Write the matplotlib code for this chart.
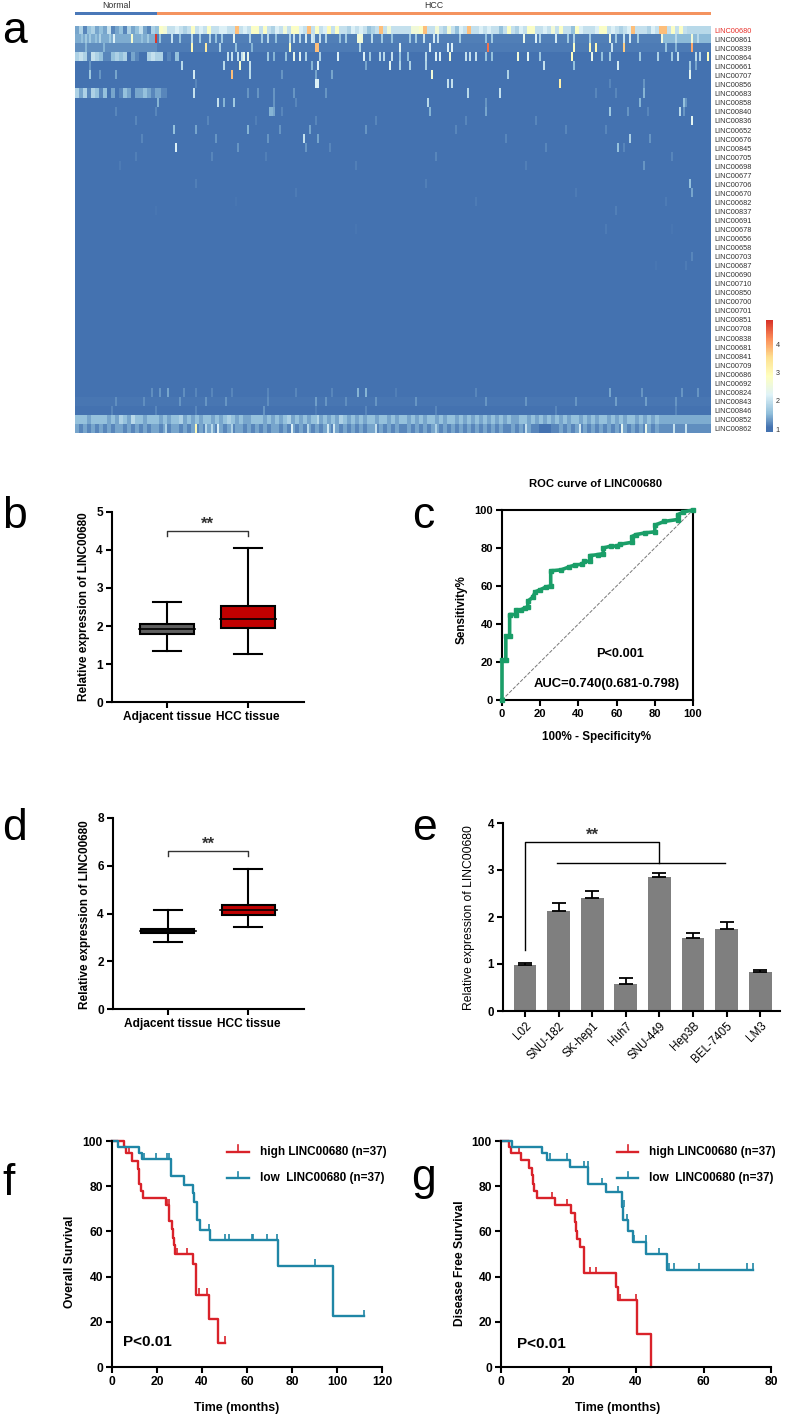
import numpy as np
from matplotlib import pyplot as plt
from matplotlib.colors import LinearSegmentedColormap

plt.rcParams['font.family'] = ['Liberation Sans', 'DejaVu Sans']
plt.rcParams['font.weight'] = 'bold'

W, H = 787, 1419

# heatmap
genes = ['LINC00680', 'LINC00861', 'LINC00839', 'LINC00864', 'LINC00661', 'LINC00707', 'LINC00856',
         'LINC00683', 'LINC00858', 'LINC00840', 'LINC00836', 'LINC00652', 'LINC00676', 'LINC00845',
         'LINC00705', 'LINC00698', 'LINC00677', 'LINC00706', 'LINC00670', 'LINC00682', 'LINC00837',
         'LINC00691', 'LINC00678', 'LINC00656', 'LINC00658', 'LINC00703', 'LINC00687', 'LINC00690',
         'LINC00710', 'LINC00850', 'LINC00700', 'LINC00701', 'LINC00851', 'LINC00708', 'LINC00838',
         'LINC00681', 'LINC00841', 'LINC00709', 'LINC00686', 'LINC00692', 'LINC00824', 'LINC00843',
         'LINC00846', 'LINC00852', 'LINC00862']
n_samples = 318
n_normal = 41
row_base = [1.9, 1.15, 1.12, 1.05, 1.03, 1.03, 1.02, 1.03, 1.02, 1.04, 1.02, 1.03, 1.02, 1.02, 1.01,
            1.01, 1.01, 1.01, 1.01, 1.01, 1.01, 1.0, 1.0, 1.0, 1.0, 1.0, 1.0, 1.0, 1.0, 1.0,
            1.0, 1.0, 1.0, 1.0, 1.0, 1.0, 1.0, 1.0, 1.0, 1.0, 1.05, 1.1, 1.06, 1.45, 1.25]

# coarse rows, one hex digit per two samples, value = 1 + 0.2 * digit
row_coarse = {
    0: '241342325123142352143' + '98556545956595566 55e5659959546585996 5e5956a59554656 5345e585'.replace(' ', '')
       + '555588 9e558548536 5e556565535 9546 599556 585 9553 965556 9956545 6e555465 ee595 95'.replace(' ', ''),
    3: '454154311343402100454' + '4010300000000000000000000',
    7: '424143130201320223212' + '110',
    43: '333233332324322332333' + '2323342323233232343232233323232342323233232324323232332332323'
        + '3232323323233232323232323232233232323232323323232332323233232323',
    44: '212121212122121212122' + '1212212121212212121221212121221212121212122121212121221212121'
        + '1212121221212121212121212112121211000112121212121212121212121212',
}
row_band = {1: [(0, 41, 1.45), (293, 318, 1.55)], 2: [(0, 41, 1.25)]}
row_spikes = {
    1: [(3, 1.6), (5, 1.7), (7, 1.7), (10, 1.6), (12, 1.8), (17, 1.7), (19, 2.2), (28, 2.7), (33, 1.6),
        (36, 1.7), (40, 4.8), (42, 1.6), (48, 2.0), (52, 1.6), (58, 1.9), (62, 1.7), (67, 1.8), (70, 1.6),
        (73, 1.7), (79, 2.3), (87, 1.8), (93, 1.7), (96, 1.9), (100, 1.6), (107, 1.8), (109, 2.0),
        (112, 1.9), (115, 2.1), (118, 2.1), (119, 2.0), (122, 2.0), (125, 1.8), (132, 1.6), (135, 1.7),
        (141, 2.6), (142, 2.6), (143, 2.6), (148, 1.9), (153, 1.7), (158, 1.6), (167, 1.7), (170, 1.7),
        (174, 2.0), (179, 2.1), (181, 2.0), (192, 1.7), (205, 1.6), (208, 1.7), (224, 2.4), (230, 2.2),
        (232, 1.8), (240, 2.1), (246, 1.7), (249, 1.8), (257, 1.7), (267, 2.5), (270, 1.7), (274, 2.0),
        (277, 2.1), (281, 1.7), (293, 2.5), (300, 1.9), (308, 2.6), (311, 1.9)],
    2: [(5, 1.5), (14, 1.5), (58, 3.0), (65, 3.3), (72, 1.8), (80, 1.6), (88, 1.5), (107, 2.8), (120, 3.8),
        (121, 3.8), (142, 1.8), (162, 2.3), (177, 2.2), (186, 2.2), (188, 2.2), (206, 4.4), (249, 2.8),
        (257, 3.0), (260, 3.0), (268, 2.0), (274, 3.7), (308, 4.0), (295, 1.6), (300, 1.5)],
    3: [(76, 2.0), (78, 2.0), (81, 2.0), (83, 2.0), (84, 2.4), (86, 2.4), (96, 1.7), (99, 1.5), (105, 1.6),
        (109, 2.4), (112, 2.3), (115, 1.8), (122, 1.8), (131, 2.2), (144, 2.2), (147, 1.7), (152, 1.9),
        (154, 1.9), (158, 2.0), (162, 1.6), (166, 1.6), (175, 1.9), (180, 2.2), (182, 2.2), (187, 2.6),
        (195, 2.0), (197, 2.0), (200, 2.0), (205, 1.6), (208, 1.6), (221, 2.6), (226, 2.3), (232, 1.7),
        (248, 2.9), (258, 2.4), (263, 1.6), (267, 1.7), (282, 1.7), (291, 1.8), (298, 1.7), (301, 2.0),
        (310, 1.9), (312, 1.9), (316, 2.9)],
    4: [(7, 1.3), (53, 1.9), (74, 1.9), (82, 2.7), (87, 2.0), (118, 1.5), (121, 2.2), (145, 1.4), (157, 2.3),
        (162, 1.8), (167, 1.8), (175, 1.8), (234, 2.0), (249, 1.6), (271, 2.1), (307, 1.7), (310, 1.4)],
    5: [(7, 1.7), (12, 1.3), (20, 1.4), (59, 2.1), (78, 3.8), (87, 1.9), (103, 1.3), (120, 1.4), (128, 1.4),
        (178, 2.6), (216, 1.8), (307, 2.3)],
    6: [(60, 1.2), (120, 2.2), (121, 2.2), (186, 2.0), (188, 2.0), (242, 3.2), (284, 1.3), (267, 1.2)],
    7: [(42, 1.4), (59, 2.0), (86, 1.3), (91, 1.3), (99, 1.3), (109, 1.3), (125, 1.3), (196, 1.9), (212, 2.0),
        (260, 1.2), (284, 1.5), (270, 1.2)],
    8: [(41, 1.5), (71, 2.0), (74, 1.5), (79, 1.7), (99, 1.3), (110, 1.2), (176, 1.9), (205, 1.3), (282, 1.5),
        (304, 1.6), (305, 1.3)],
    9: [(20, 1.2), (40, 1.2), (97, 1.5), (98, 1.5), (99, 1.4), (103, 1.2), (177, 1.5), (205, 1.4), (267, 1.7),
        (276, 1.3), (286, 1.2), (302, 1.9), (304, 1.3)],
    10: [(30, 1.2), (66, 1.2), (90, 1.15), (120, 1.2), (150, 1.2), (195, 1.2), (230, 1.2), (308, 2.3)],
    11: [(49, 1.6), (60, 1.4), (86, 1.5), (102, 1.3), (117, 1.4), (145, 1.3), (190, 1.2), (245, 1.2), (265, 1.2)],
    12: [(114, 2.0), (121, 1.4), (70, 1.3), (96, 1.3), (277, 1.8), (287, 1.3), (33, 1.2), (215, 1.2)],
    13: [(50, 2.2), (81, 1.3), (115, 1.3), (127, 1.2), (271, 1.6), (274, 1.2), (235, 1.2)],
    14: [(30, 1.15), (68, 1.2), (95, 1.15), (180, 1.2), (298, 1.2)],
    15: [(284, 1.3), (22, 1.12), (140, 1.15), (225, 1.15)],
    17: [(307, 1.6), (60, 1.15), (175, 1.15)],
    18: [(308, 1.4), (110, 1.12), (250, 1.12)],
    19: [(80, 1.1), (200, 1.12), (295, 1.12)],
    20: [(270, 1.15), (40, 1.1)],
    22: [(265, 1.12), (298, 1.1), (140, 1.1)],
    25: [(308, 1.2)],
    26: [(305, 1.12), (290, 1.1)],
    40: [(38, 1.25), (42, 1.3), (46, 1.4), (54, 1.25), (60, 1.2), (68, 1.2), (78, 1.2), (96, 1.2), (110, 1.2),
         (128, 1.2), (141, 1.5), (145, 1.5), (160, 1.15), (200, 1.2), (267, 1.4), (283, 1.3), (303, 1.3), (311, 1.3)],
    41: [(20, 1.25), (34, 1.25), (52, 1.3), (65, 1.3), (75, 1.3), (96, 1.25), (120, 1.35), (125, 1.3), (135, 1.25),
         (150, 1.3), (170, 1.3), (205, 1.3), (225, 1.3), (250, 1.3), (270, 1.35), (285, 1.35), (300, 1.3)],
    42: [(18, 1.2), (40, 1.2), (60, 1.2), (94, 1.3), (120, 1.15), (145, 1.2), (180, 1.2), (240, 1.2), (300, 1.2)],
    43: [(28, 1.9), (29, 1.9), (121, 1.9)],
    44: [(45, 1.8), (60, 3.0), (65, 1.9), (68, 1.9), (71, 2.2), (78, 1.8), (108, 2.2), (116, 1.9), (126, 2.1),
         (129, 2.1), (150, 2.0), (180, 1.8), (225, 2.0), (252, 2.1), (273, 2.3), (285, 2.4), (299, 2.0), (305, 2.0)],
}
heat_stops = [0, 0.04, 0.167, 0.333, 0.5, 0.667, 0.833, 1]
heat_colors = ['#4472B0', '#4472B0', '#91BFDB', '#E0F3F8', '#FFFFBF', '#FEE090', '#FC8D59', '#D73027']

# boxplots (whisker low, q1, median, q3, whisker high)
box_labels = ['Adjacent tissue', 'HCC tissue']
box_b = [[1.35, 1.78, 1.92, 2.06, 2.62], [1.26, 1.95, 2.18, 2.52, 4.06]]
box_d = [[2.82, 3.18, 3.28, 3.37, 4.13], [3.42, 3.92, 4.15, 4.37, 5.87]]
box_colors = ['#5f5f5f', '#c00000']
box_colors_d = ['#2a2a2a', '#c00000']

# ROC curve
roc_x = [0, 0, 2, 2, 4, 4, 7.5, 7.5, 10, 12, 13.5, 13.5, 16, 17.5, 20, 23, 25.5, 25.5, 31, 35, 38, 42, 43, 46,
         46, 50, 53, 53, 57, 60, 62, 68, 68, 70, 75, 80, 80, 85, 92, 92, 95, 100]
roc_y = [0, 21, 21, 33.5, 33.5, 45, 45, 47.5, 47.5, 48.5, 49, 52, 54, 57, 58, 59.5, 60, 68, 68.5, 70, 71, 71.5,
         73, 73, 76, 76.5, 77, 80, 81, 81, 82, 83, 86, 87, 88, 88.5, 92, 94, 95, 97.5, 99, 100]

# cell lines
cell_lines = ['L02', 'SNU-182', 'SK-hep1', 'Huh7', 'SNU-449', 'Hep3B', 'BEL-7405', 'LM3']
cell_mean = [0.98, 2.12, 2.40, 0.58, 2.86, 1.55, 1.74, 0.83]
cell_err = [0.05, 0.17, 0.16, 0.13, 0.07, 0.12, 0.16, 0.05]

# survival
f_high_t = [0, 5.5, 6, 8.7, 11.7, 12.2, 12.7, 13.8, 24, 25.2, 26.5, 27, 27.5, 27.9, 36.2, 37.3, 43.2, 47.3, 50.3]
f_high_s = [100, 97.3, 94.6, 91.2, 87.8, 81, 78, 74.8, 71.5, 64.5, 61, 57, 54, 50, 45.5, 32, 21.3, 10.7, 10.7]
f_high_cens_t = [7.7, 24.5, 25.4, 29, 33.5, 38.5, 42, 50.3]
f_high_cens_s = [94.6, 71.5, 71.5, 50, 50, 32, 32, 10.7]
f_low_t = [0, 2.7, 12.2, 13.5, 26, 32.2, 36, 36.5, 37.9, 39, 43.5, 73.7, 98, 112]
f_low_s = [100, 97.3, 94.6, 91.9, 84.5, 80.7, 77, 73, 65, 60.5, 56, 44.8, 22.4, 22.4]
f_low_cens_t = [14, 19.7, 24.5, 25.5, 43, 50, 52, 62, 62.7, 69, 73.5, 90, 112]
f_low_cens_s = [91.9, 91.9, 91.9, 91.9, 60.5, 56, 56, 56, 56, 56, 56, 44.8, 22.4]

g_high_t = [0, 2.5, 3.1, 5.9, 8.4, 9.2, 9.6, 9.8, 10.8, 16, 20.6, 22, 22.3, 22.6, 23.3, 24.5, 34.2, 34.6, 40.2, 44.4]
g_high_s = [100, 97.3, 94.6, 91.4, 88, 84.8, 81, 78, 74.8, 71.5, 68, 64, 60, 56.8, 53, 41.5, 35.5, 29.6, 14.8, 0]
g_high_cens_t = [5.2, 15, 19.7, 26.4, 28, 35.3, 40]
g_high_cens_s = [94.6, 74.8, 71.5, 41.5, 41.5, 29.6, 29.6]
g_low_t = [0, 3.2, 12.2, 13.5, 20.3, 25.9, 31.2, 35.8, 36.2, 37.5, 39, 43, 49.2, 74.6]
g_low_s = [100, 97.3, 94.6, 91.7, 88.3, 81, 77.3, 71, 65, 60, 55.5, 50, 43, 43]
g_low_cens_t = [14.5, 19.7, 24.5, 25.7, 30, 34.8, 36.5, 37.2, 39.3, 43, 46.8, 49.7, 51.4, 58.8, 73, 74.6]
g_low_cens_s = [91.7, 91.7, 88.3, 88.3, 81, 77.3, 71, 65, 55.5, 55.5, 50, 43, 43, 43, 43, 43]

RED = '#d9222a'
TEAL = '#1f86a6'
LW = 1.5


def px_axes(left, top, right, bottom):
    # axes placed by pixel edges of the final picture
    return fig.add_axes([left / W, 1 - bottom / H, (right - left) / W, (bottom - top) / H])


def px_text(x, y, s, **kw):
    kw.setdefault('ha', 'center')
    kw.setdefault('va', 'center')
    fig.text(x / W, 1 - y / H, s, **kw)


def style_axis(ax, size=8.5):
    for side in ['top', 'right']:
        ax.spines[side].set_visible(False)
    for side in ['left', 'bottom']:
        ax.spines[side].set_linewidth(LW)
    ax.tick_params(width=LW, length=4.5, labelsize=size, pad=2)


fig = plt.figure(figsize=(W / 100, H / 100), dpi=100)

# panel letters
for s, x, y in [('a', 2, 43), ('b', 2, 528), ('c', 412, 528), ('d', 2, 840), ('e', 412, 840), ('f', 2, 1195),
                ('g', 411, 1190)]:
    px_text(x, y, s, ha='left', va='baseline', fontsize=32, fontweight='normal')

# a: heatmap
heat = np.array(row_base)[:, None] * np.ones((len(genes), n_samples))
for r, bands in row_band.items():
    for start, stop, val in bands:
        heat[r, start:stop] = val
for r, s in row_coarse.items():
    v = np.repeat(1 + 0.2 * np.array([int(c, 16) for c in s]), 2)[:n_samples]
    heat[r, :len(v)] = v
for r, spikes in row_spikes.items():
    for col, val in spikes:
        heat[r, col] = val

cmap = LinearSegmentedColormap.from_list('heat', list(zip(heat_stops, heat_colors)))
ax = px_axes(75, 26, 711, 433)
im = ax.imshow(heat, aspect='auto', cmap=cmap, vmin=0.9, vmax=4.87, interpolation='nearest')
ax.set_xticks([])
ax.set_yticks(range(len(genes)))
ax.set_yticklabels(genes, fontsize=5.3, fontweight='normal', color='#333333')
ax.yaxis.tick_right()
ax.tick_params(axis='y', length=0, pad=2.2)
ax.get_yticklabels()[0].set_color('#e8302a')
for sp in ax.spines.values():
    sp.set_visible(False)

cax = px_axes(766, 320, 773, 432)
cb = fig.colorbar(im, cax=cax)
cb.set_ticks([1, 2, 3, 4])
cb.ax.tick_params(length=0, labelsize=5.2, pad=2, labelcolor='#333333')
cb.outline.set_visible(False)
for lab in cb.ax.get_yticklabels():
    lab.set_fontweight('normal')

ann = px_axes(75, 12, 711, 15)
ann.set_xlim(0, n_samples)
ann.set_ylim(0, 1)
ann.barh(0.5, n_normal, height=1, left=0, color='#4a78b8')
ann.barh(0.5, n_samples - n_normal, height=1, left=n_normal, color='#f4935f')
ann.axis('off')
px_text(116, 5.5, 'Normal', fontsize=6.3, fontweight='normal', color='#333333')
px_text(434, 5.5, 'HCC', fontsize=6.3, fontweight='normal', color='#333333')


# b and d: boxplots
def box_panel(ax, data, colors, ymax, yticks, bracket_y, star_y, bracket_drop):
    stats = [dict(whislo=d[0], q1=d[1], med=d[2], q3=d[3], whishi=d[4], fliers=[]) for d in data]
    parts = ax.bxp(stats, positions=[1, 2], widths=0.66, capwidths=0.35, patch_artist=True, showfliers=False,
                   boxprops=dict(linewidth=LW, edgecolor='black'), whiskerprops=dict(linewidth=LW),
                   capprops=dict(linewidth=LW), medianprops=dict(linewidth=0))
    for patch, c in zip(parts['boxes'], colors):
        patch.set_facecolor(c)
    for pos, d in zip([1, 2], data):
        ax.plot([pos - 0.35, pos + 0.35], [d[2], d[2]], color='black', lw=1.2)
    ax.set_xlim(0.32, 2.69)
    ax.set_ylim(0, ymax)
    ax.set_yticks(yticks)
    ax.set_xticks([1, 2])
    ax.set_xticklabels(box_labels)
    style_axis(ax, 8.6)
    ax.plot([1, 1, 2, 2], [bracket_y - bracket_drop, bracket_y, bracket_y, bracket_y - bracket_drop],
            color='#333333', lw=1)
    ax.text(1.5, star_y, '**', ha='center', va='center', fontsize=12, color='#333333')


ax = px_axes(112, 512, 304, 702)
box_panel(ax, box_b, box_colors, 5, range(6), 4.51, 4.68, 0.14)
px_text(84, 607, 'Relative expression of LINC00680', rotation=90, fontsize=8.5)

ax = px_axes(113, 818, 304, 1009)
box_panel(ax, box_d, box_colors_d, 8, [0, 2, 4, 6, 8], 6.6, 6.9, 0.2)
px_text(85, 915, 'Relative expression of LINC00680', rotation=90, fontsize=8.5)

# c: ROC
ax = px_axes(502, 510, 693, 700)
ax.plot([0, 100], [0, 100], color='#777777', lw=0.7, ls='--')
ax.plot(roc_x, roc_y, color='#1a9e68', lw=2.6, marker='s', ms=2.6, solid_capstyle='butt', clip_on=False, zorder=3)
ax.set_xlim(0, 100)
ax.set_ylim(0, 100)
ax.set_xticks(range(0, 101, 20))
ax.set_yticks(range(0, 101, 20))
style_axis(ax, 8)
for side in ['top', 'right']:
    ax.spines[side].set_visible(True)
    ax.spines[side].set_linewidth(LW)
ax.text(62, 24, 'P<0.001', ha='center', va='center', fontsize=9.2)
ax.text(55, 8.2, 'AUC=0.740(0.681-0.798)', ha='center', va='center', fontsize=9.4)
px_text(596, 484, 'ROC curve of LINC00680', fontsize=8.1)
px_text(597, 737, '100% - Specificity%', fontsize=8.4)
px_text(462, 610, 'Sensitivity%', rotation=90, fontsize=8.4)

# e: cell lines
ax = px_axes(503, 823, 780, 1011)
pos = np.arange(len(cell_lines))
ax.bar(pos, cell_mean, width=0.675, color='#7f7f7f',
       yerr=[np.zeros(len(cell_err)), cell_err],
       error_kw=dict(ecolor='black', elinewidth=1.3, capsize=5, capthick=1.3))
ax.set_xlim(-0.655, 7.59)
ax.set_ylim(0, 4)
ax.set_yticks(range(5))
ax.set_xticks(pos)
ax.set_xticklabels(cell_lines, rotation=45, ha='right', rotation_mode='anchor', fontweight='normal')
style_axis(ax, 8.3)
ax.tick_params(axis='x', labelsize=8.3)
ax.plot([0, 0, 4, 4], [1.3, 3.59, 3.59, 3.15], color='black', lw=1)
ax.plot([0.95, 5.95], [3.15, 3.15], color='black', lw=1)
ax.text(2.02, 3.74, '**', ha='center', va='center', fontsize=12, color='#333333')
px_text(469, 918, 'Relative expression of LINC00680', rotation=90, fontsize=8.7, fontweight='normal')


# f and g: survival
def km_panel(ax, xmax, xstep, curves, leg_x, leg_text_x, p_xy):
    for (t, s, ct, cs), c in zip(curves, [RED, TEAL]):
        ax.step(t, s, where='post', color=c, lw=1.7, clip_on=False)
        ax.vlines(ct, cs, np.array(cs) + 2.8, color=c, lw=1.2, clip_on=False)
    ax.set_xlim(0, xmax)
    ax.set_ylim(0, 100)
    ax.set_xticks(range(0, xmax + 1, xstep))
    ax.set_yticks(range(0, 101, 20))
    style_axis(ax, 8.7)
    for y, c, label in [(95.3, RED, 'high LINC00680 (n=37)'), (83.7, TEAL, 'low  LINC00680 (n=37)')]:
        ax.plot(leg_x, [y, y], color=c, lw=1.7)
        ax.plot([sum(leg_x) / 2] * 2, [y, y + 2.8], color=c, lw=1.2)
        ax.text(leg_text_x, y, label, va='center', fontsize=8.5)
    ax.text(p_xy[0], p_xy[1], 'P<0.01', va='center', fontsize=11)


ax = px_axes(112, 1141, 382, 1367)
km_panel(ax, 120, 20,
         [(f_high_t, f_high_s, f_high_cens_t, f_high_cens_s), (f_low_t, f_low_s, f_low_cens_t, f_low_cens_s)],
         [51, 61], 65.8, (5, 11))
px_text(70, 1262, 'Overall Survival', rotation=90, fontsize=8.7)
px_text(237, 1408, 'Time (months)', fontsize=8.9)

ax = px_axes(501, 1141, 771, 1367)
km_panel(ax, 80, 20,
         [(g_high_t, g_high_s, g_high_cens_t, g_high_cens_s), (g_low_t, g_low_s, g_low_cens_t, g_low_cens_s)],
         [34.4, 40.6], 43.9, (4.6, 10))
px_text(460, 1263, 'Disease Free Survival', rotation=90, fontsize=8.7)
px_text(618, 1408, 'Time (months)', fontsize=8.9)

fig.savefig('out.png', dpi=100)
